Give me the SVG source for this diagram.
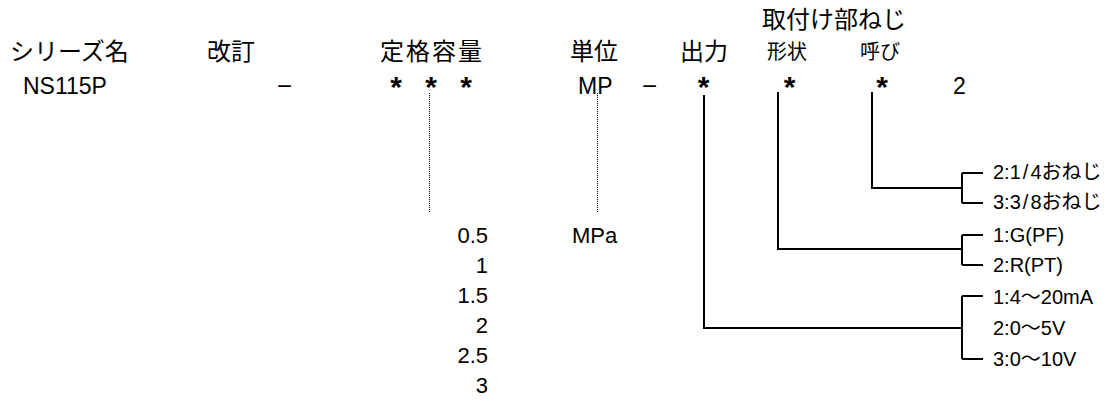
<svg xmlns="http://www.w3.org/2000/svg" width="1114" height="401" viewBox="0 0 1114 401">
<style>
text{fill:#000}
.h{font-family:"Noto Sans CJK JP","Liberation Sans",sans-serif;font-size:24px}
.hs{font-family:"Noto Sans CJK JP","Liberation Sans",sans-serif;font-size:20px}
.c{font-family:"Liberation Sans","Noto Sans CJK JP",sans-serif;font-size:23px}
.d{font-family:"Liberation Sans",sans-serif;font-size:26px}
.st{font-family:"Liberation Sans",sans-serif;font-weight:bold;font-size:30px;text-anchor:middle}
.n{font-family:"Liberation Sans","Noto Sans CJK JP",sans-serif;font-size:22px}
.r{text-anchor:end}
.l{font-family:"Liberation Sans","Noto Sans CJK JP",sans-serif;font-size:20px}
.ln{fill:none;stroke:#000;stroke-width:2}
.dt{fill:none;stroke:#000;stroke-width:1;stroke-dasharray:1 1}
</style>
<g id="headers">
<text class="h" x="10" y="60">シリーズ名</text>
<text class="h" x="207" y="60">改訂</text>
<text class="h" x="380" y="60" letter-spacing="2">定格容量</text>
<text class="h" x="570" y="60">単位</text>
<text class="h" x="680" y="60">出力</text>
<text class="h" x="762" y="28">取付け部ねじ</text>
<text class="hs" x="767" y="59">形状</text>
<text class="hs" x="860" y="59">呼び</text>
</g>
<g id="code">
<text class="c" x="23" y="94">NS115P</text>
<text class="d" x="277" y="95">−</text>
<text class="st" x="396" y="97">*</text>
<text class="st" x="431" y="97">*</text>
<text class="st" x="466" y="97">*</text>
<text class="c" x="578" y="94">MP</text>
<text class="d" x="642" y="95">−</text>
<text class="st" x="703.5" y="97">*</text>
<text class="st" x="789.5" y="97">*</text>
<text class="st" x="882" y="97">*</text>
<text class="c" x="953" y="94">2</text>
</g>
<g id="capacity">
<text class="n r" x="488" y="243">0.5</text>
<text class="n r" x="488" y="273">1</text>
<text class="n r" x="488" y="303">1.5</text>
<text class="n r" x="488" y="333">2</text>
<text class="n r" x="488" y="363">2.5</text>
<text class="n r" x="488" y="393">3</text>
</g>
<g id="unit">
<text class="n" x="572" y="243">MPa</text>
</g>
<g id="thread-size">
<text class="l" x="993" y="179">2:1<tspan dx="2">/</tspan><tspan dx="2">4おねじ</tspan></text>
<text class="l" x="993" y="209">3:3<tspan dx="2">/</tspan><tspan dx="2">8おねじ</tspan></text>
</g>
<g id="thread-shape">
<text class="l" x="993" y="242">1:G(PF)</text>
<text class="l" x="993" y="272">2:R(PT)</text>
</g>
<g id="output">
<text class="l" x="993" y="304">1:4〜20mA</text>
<text class="l" x="993" y="335">2:0〜5V</text>
<text class="l" x="993" y="366">3:0〜10V</text>
</g>
<g id="connectors">
<path class="dt" d="M429.5,93V212M597.5,93V212"/>
<path class="ln" d="M872,92V188H962M962,173V203M962,173H983M962,203H983"/>
<path class="ln" d="M778,92V249H962M962,235V265M962,235H983M962,265H983"/>
<path class="ln" d="M704,95V328H962M962,296V359M962,296H983M962,359H983"/>
</g>
</svg>
